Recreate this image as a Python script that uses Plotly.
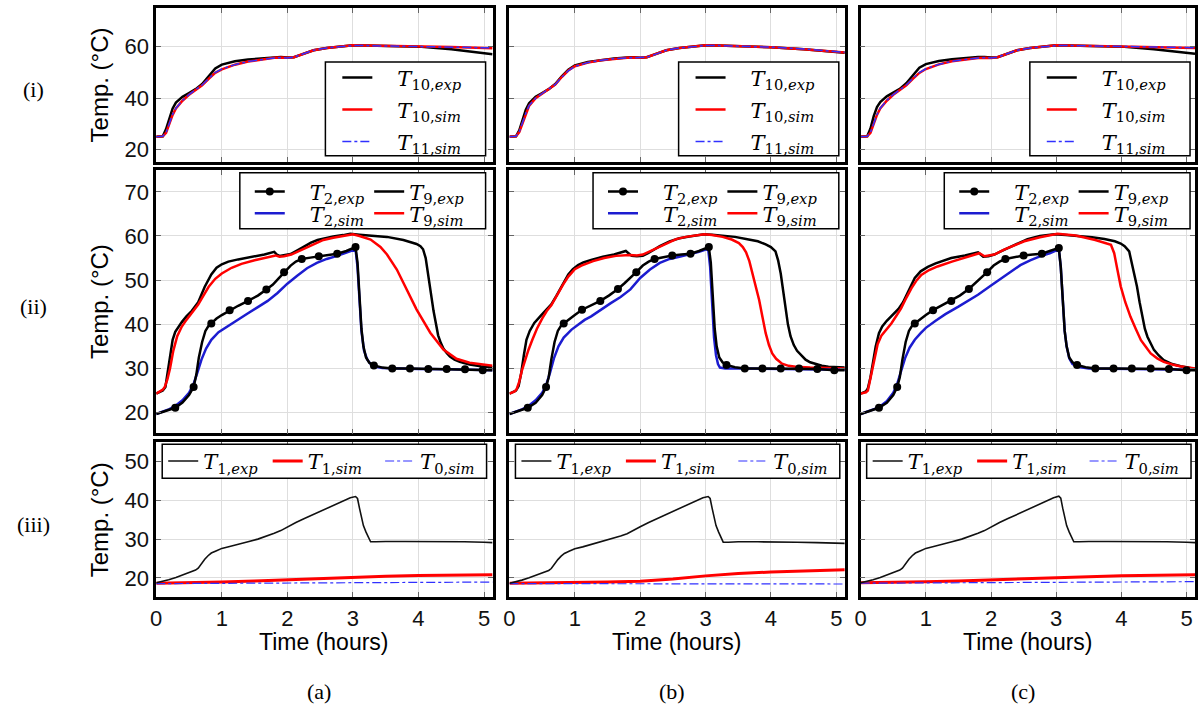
import plotly.graph_objects as go

W, H = 1198, 706

# ---------------- data : row (i) ----------------
t_top = [0, 0.1, 0.15, 0.2, 0.25, 0.3, 0.4, 0.5, 0.6, 0.7, 0.8, 0.9, 1.0, 1.2, 1.4, 1.6, 1.8, 1.9, 2.0,
         2.1, 2.2, 2.3, 2.4, 2.6, 2.8, 3.0, 3.2, 3.5, 4.0, 4.5, 5.13]
T10_exp_a = [25.0, 25.2, 28.0, 32.5, 36.0, 38.3, 40.5, 42.0, 43.5, 45.5, 48.5, 51.5, 53.0, 54.3, 55.0, 55.5, 56.0,
             56.0, 55.8, 55.9, 56.8, 57.8, 58.6, 59.5, 60.0, 60.5, 60.4, 60.3, 60.0, 59.0, 57.0]
T10_sim_a = [25.0, 25.2, 26.5, 30.0, 33.5, 36.0, 39.0, 41.3, 43.2, 45.0, 47.5, 49.8, 51.2, 53.0, 54.2, 55.0, 55.7,
             55.8, 55.7, 55.9, 56.8, 57.8, 58.6, 59.5, 60.0, 60.5, 60.4, 60.3, 60.1, 59.9, 59.4]
T11_sim_a = [25.0, 25.2, 26.6, 30.2, 33.7, 36.1, 39.1, 41.4, 43.2, 45.1, 47.6, 49.9, 51.3, 53.0, 54.2, 55.0, 55.6,
             55.7, 55.6, 55.9, 56.7, 57.7, 58.6, 59.5, 60.0, 60.4, 60.4, 60.3, 60.1, 59.9, 59.5]
T10_exp_b = [25.0, 25.2, 27.5, 32.0, 35.5, 38.0, 40.5, 42.0, 43.5, 45.5, 48.5, 51.0, 52.7, 54.0, 54.8, 55.4, 55.8,
             55.9, 55.7, 55.9, 56.8, 57.8, 58.6, 59.5, 60.0, 60.5, 60.4, 60.2, 59.8, 59.0, 57.6]
T10_sim_b = [25.0, 25.2, 26.8, 30.5, 34.0, 37.0, 40.0, 41.8, 43.4, 45.3, 48.2, 50.7, 52.4, 53.8, 54.7, 55.3, 55.7,
             55.8, 55.7, 55.9, 56.8, 57.8, 58.6, 59.5, 60.0, 60.5, 60.4, 60.2, 59.8, 59.0, 57.7]
T11_sim_b = [25.0, 25.2, 26.9, 30.6, 34.1, 37.1, 40.0, 41.8, 43.4, 45.3, 48.1, 50.6, 52.3, 53.8, 54.7, 55.3, 55.6,
             55.7, 55.6, 55.9, 56.7, 57.7, 58.6, 59.5, 60.0, 60.4, 60.4, 60.2, 59.8, 59.1, 57.8]
T10_exp_c = [25.0, 25.2, 28.2, 33.0, 36.5, 38.5, 40.7, 42.2, 43.6, 45.8, 49.0, 51.8, 53.2, 54.4, 55.1, 55.6, 56.0,
             56.0, 55.8, 55.9, 56.8, 57.8, 58.6, 59.5, 60.0, 60.5, 60.4, 60.3, 60.0, 59.0, 57.2]
T10_sim_c = [25.0, 25.2, 26.5, 30.0, 33.5, 36.0, 39.0, 41.3, 43.2, 45.0, 47.5, 49.8, 51.3, 53.1, 54.3, 55.0, 55.6,
             55.7, 55.6, 55.9, 56.8, 57.8, 58.6, 59.5, 60.0, 60.5, 60.4, 60.3, 60.1, 59.9, 59.5]
T11_sim_c = [25.0, 25.2, 26.6, 30.1, 33.6, 36.1, 39.1, 41.4, 43.3, 45.1, 47.6, 49.9, 51.4, 53.1, 54.3, 55.0, 55.6,
             55.7, 55.6, 55.9, 56.7, 57.7, 58.6, 59.5, 60.0, 60.4, 60.4, 60.3, 60.1, 59.9, 59.6]

# ---------------- data : row (ii) ----------------
T9_exp_a_t = [0, 0.1, 0.14, 0.18, 0.21, 0.25, 0.29, 0.34, 0.39, 0.46, 0.54, 0.64, 0.74, 0.84, 0.92, 1.0, 1.1, 1.25,
              1.5, 1.65, 1.8, 1.84, 1.88, 1.95, 2.05, 2.16, 2.26, 2.36, 2.46, 2.56, 2.7, 2.85, 2.96, 3.1, 3.27, 3.52,
              3.77, 3.9, 3.97, 4.03, 4.07, 4.11, 4.15, 4.19, 4.23, 4.27, 4.3, 4.34, 4.38, 4.43, 4.48, 4.55, 4.63,
              4.78, 4.95, 5.13]
T9_exp_a = [24.3, 25.0, 25.8, 30.0, 33.5, 36.5, 38.3, 39.5, 40.5, 41.8, 43.0, 45.0, 48.5, 51.3, 52.8, 53.6, 54.2,
            54.7, 55.3, 55.8, 56.4, 55.8, 55.5, 55.6, 55.9, 56.8, 57.7, 58.5, 59.1, 59.5, 59.9, 60.2, 60.5, 60.3,
            60.1, 59.8, 59.1, 58.6, 58.2, 57.7, 57.0, 55.0, 51.5, 47.0, 43.0, 39.5, 37.5, 35.8, 34.5, 33.5, 32.7,
            32.0, 31.5, 30.9, 30.5, 30.3]
T9_sim_a_t = [0, 0.1, 0.13, 0.17, 0.21, 0.26, 0.32, 0.39, 0.46, 0.54, 0.64, 0.72, 0.8, 0.9, 1.0, 1.15, 1.3, 1.5,
              1.7, 1.82, 1.88, 1.95, 2.06, 2.16, 2.26, 2.4, 2.55, 2.7, 2.85, 3.0, 3.1, 3.27, 3.42, 3.52, 3.67, 3.77,
              3.97, 4.18, 4.38, 4.58, 4.78, 5.13]
T9_sim_a = [24.3, 25.2, 25.8, 27.5, 30.0, 34.0, 37.3, 39.5, 41.0, 42.5, 44.5, 46.5, 48.5, 50.3, 51.5, 52.8, 53.7,
            54.5, 55.2, 55.6, 55.3, 55.4, 55.8, 56.5, 57.2, 58.2, 59.1, 59.6, 60.0, 60.4, 60.0, 59.2, 57.5, 55.8,
            52.4, 49.4, 43.4, 38.1, 34.3, 32.2, 31.3, 30.6]
T2_exp_a_t = [0, 0.1, 0.2, 0.29, 0.4, 0.5, 0.57, 0.61, 0.65, 0.7, 0.75, 0.8, 0.84, 0.92, 1.0, 1.12, 1.25, 1.4, 1.55,
              1.68, 1.78, 1.86, 1.95, 2.05, 2.13, 2.22, 2.35, 2.48, 2.62, 2.76, 2.9, 2.98, 3.04, 3.07, 3.1, 3.13,
              3.16, 3.2, 3.25, 3.32, 3.45, 3.6, 3.87, 4.15, 4.43, 4.71, 4.98, 5.13]
T2_exp_a = [19.7, 20.2, 20.6, 21.1, 22.3, 24.0, 25.8, 28.5, 32.5, 36.0, 38.5, 39.7, 40.2, 41.3, 42.1, 43.2, 44.2,
            45.3, 46.5, 47.9, 49.0, 50.3, 51.8, 53.3, 54.2, 54.8, 55.1, 55.4, 55.7, 56.0, 56.6, 57.1, 57.5, 54.0,
            46.0, 39.0, 35.0, 32.5, 31.3, 30.7, 30.2, 30.0, 30.0, 29.9, 29.9, 29.8, 29.6, 29.6]
T2_mark_a_t = [0.29, 0.57, 0.84, 1.12, 1.4, 1.68, 1.95, 2.22, 2.48, 2.76, 3.04, 3.32, 3.6, 3.87, 4.15, 4.43, 4.71, 4.98]
T2_mark_a = [21.1, 25.8, 40.2, 43.2, 45.3, 47.9, 51.8, 54.8, 55.4, 56.0, 57.5, 30.7, 30.0, 30.0, 29.9, 29.9, 29.8, 29.6]
T2_sim_a_t = [0, 0.1, 0.2, 0.3, 0.4, 0.5, 0.57, 0.63, 0.69, 0.76, 0.84, 0.95, 1.05, 1.15, 1.25, 1.4, 1.55, 1.7, 1.85,
              2.0, 2.15, 2.3, 2.45, 2.6, 2.76, 2.9, 2.98, 3.04, 3.07, 3.1, 3.13, 3.17, 3.22, 3.27, 3.35, 3.45, 3.6,
              4.0, 4.5, 5.13]
T2_sim_a = [19.7, 20.2, 20.8, 21.6, 22.8, 24.5, 26.5, 29.2, 32.0, 34.5, 36.5, 38.2, 39.2, 40.2, 41.0, 42.5, 43.9,
            45.3, 47.1, 49.2, 51.0, 52.7, 53.9, 54.8, 55.5, 56.2, 56.7, 57.0, 53.0, 45.0, 38.5, 34.0, 32.0, 31.0,
            30.4, 30.1, 30.0, 29.9, 29.8, 29.6]

T9_exp_b_t = [0, 0.1, 0.14, 0.18, 0.22, 0.26, 0.31, 0.38, 0.47, 0.55, 0.64, 0.72, 0.82, 0.9, 0.97, 1.05, 1.13, 1.25,
              1.43, 1.6, 1.78, 1.82, 1.87, 1.95, 2.04, 2.12, 2.19, 2.3, 2.45, 2.6, 2.75, 2.9, 2.98, 3.1, 3.26, 3.45,
              3.66, 3.8, 3.92, 4.0, 4.07, 4.11, 4.15, 4.19, 4.22, 4.26, 4.3, 4.35, 4.4, 4.47, 4.53, 4.6, 4.68, 4.78,
              4.88, 5.0, 5.13]
T9_exp_b = [24.3, 25.0, 26.0, 29.0, 33.0, 36.5, 38.5, 40.3, 41.8, 43.0, 44.5, 46.5, 49.3, 51.3, 52.5, 53.4, 54.0,
            54.6, 55.3, 55.8, 56.6, 56.1, 55.5, 55.4, 55.5, 56.1, 56.8, 57.7, 58.8, 59.5, 59.9, 60.2, 60.4, 60.3,
            60.1, 59.8, 59.2, 58.8, 58.1, 57.5, 56.5, 54.5, 51.5, 47.5, 44.0, 40.0, 37.3, 35.3, 34.0, 32.8, 32.0,
            31.4, 31.0, 30.6, 30.4, 30.3, 30.2]
T9_sim_b_t = [0, 0.08, 0.11, 0.15, 0.19, 0.24, 0.29, 0.35, 0.42, 0.5, 0.57, 0.64, 0.72, 0.82, 0.9, 1.0, 1.1, 1.28,
              1.45, 1.63, 1.84, 1.95, 2.04, 2.14, 2.24, 2.4, 2.55, 2.7, 2.85, 2.98, 3.1, 3.26, 3.4, 3.51, 3.57, 3.62,
              3.67, 3.72, 3.77, 3.82, 3.87, 3.92, 3.97, 4.02, 4.08, 4.17, 4.27, 4.38, 4.6, 4.9, 5.13]
T9_sim_b = [24.3, 24.8, 25.3, 27.0, 29.5, 32.0, 34.2, 36.5, 39.0, 41.3, 43.0, 44.3, 46.5, 49.0, 50.8, 52.5, 53.3,
            54.3, 55.0, 55.5, 55.7, 55.6, 55.8, 56.5, 57.3, 58.4, 59.3, 59.8, 60.1, 60.4, 60.2, 59.8, 59.2, 58.4,
            57.5, 56.3, 54.3, 51.5, 48.5, 45.5, 41.7, 38.0, 35.3, 33.4, 32.2, 31.1, 30.6, 30.4, 30.2, 30.1, 30.0]
T2_exp_b_t = [0, 0.1, 0.2, 0.28, 0.4, 0.5, 0.56, 0.6, 0.64, 0.69, 0.74, 0.79, 0.83, 0.92, 1.0, 1.11, 1.25, 1.39, 1.52,
              1.66, 1.76, 1.85, 1.94, 2.04, 2.13, 2.22, 2.35, 2.49, 2.63, 2.77, 2.9, 2.98, 3.05, 3.08, 3.11, 3.14,
              3.17, 3.21, 3.26, 3.32, 3.45, 3.6, 3.87, 4.15, 4.43, 4.71, 4.97, 5.13]
T2_exp_b = [19.7, 20.2, 20.6, 21.1, 22.2, 24.0, 25.8, 28.0, 32.0, 36.0, 38.5, 39.7, 40.2, 41.3, 42.1, 43.3, 44.3,
            45.3, 46.5, 48.0, 49.3, 50.5, 51.8, 53.3, 54.2, 54.8, 55.2, 55.6, 55.8, 56.0, 56.6, 57.0, 57.5, 54.0,
            46.0, 39.0, 35.0, 32.5, 31.4, 30.8, 30.3, 30.0, 30.0, 30.0, 30.0, 29.9, 29.6, 29.6]
T2_mark_b_t = [0.28, 0.56, 0.83, 1.11, 1.39, 1.66, 1.94, 2.22, 2.49, 2.77, 3.05, 3.32, 3.6, 3.87, 4.15, 4.43, 4.71, 4.97]
T2_mark_b = [21.1, 25.8, 40.2, 43.3, 45.3, 48.0, 51.8, 54.8, 55.6, 56.0, 57.5, 30.8, 30.0, 30.0, 30.0, 30.0, 29.9, 29.6]
T2_sim_b_t = [0, 0.1, 0.2, 0.3, 0.4, 0.5, 0.56, 0.62, 0.68, 0.75, 0.83, 0.95, 1.05, 1.15, 1.25, 1.4, 1.55, 1.7, 1.85,
              2.0, 2.15, 2.3, 2.45, 2.6, 2.76, 2.9, 2.98, 3.04, 3.07, 3.1, 3.13, 3.16, 3.19, 3.22, 3.3, 3.6, 4.0,
              4.5, 5.13]
T2_sim_b = [19.7, 20.3, 20.8, 21.6, 22.8, 24.5, 26.2, 29.0, 32.3, 35.0, 37.0, 38.8, 40.0, 41.0, 41.8, 43.4, 44.8,
            46.2, 47.9, 50.5, 52.4, 53.9, 54.8, 55.3, 55.8, 56.4, 56.8, 57.1, 53.0, 44.0, 37.0, 33.0, 31.0, 30.2,
            30.0, 30.0, 29.9, 29.8, 29.7]

T9_exp_c_t = [0, 0.08, 0.11, 0.15, 0.19, 0.23, 0.28, 0.33, 0.4, 0.47, 0.52, 0.58, 0.65, 0.73, 0.83, 0.92, 1.03, 1.15,
              1.39, 1.6, 1.8, 1.84, 1.88, 1.96, 2.05, 2.15, 2.26, 2.4, 2.56, 2.75, 2.97, 3.15, 3.33, 3.55, 3.74, 3.9,
              3.99, 4.05, 4.12, 4.16, 4.2, 4.24, 4.28, 4.32, 4.36, 4.4, 4.45, 4.5, 4.57, 4.65, 4.78, 4.91, 5.13]
T9_exp_c = [24.3, 24.8, 25.5, 28.0, 31.5, 35.0, 38.0, 39.5, 40.8, 41.9, 42.5, 43.5, 45.0, 47.5, 50.5, 52.0, 53.0,
            53.8, 55.0, 55.6, 56.3, 55.8, 55.3, 55.4, 55.8, 56.5, 57.3, 58.2, 59.3, 60.0, 60.4, 60.2, 60.0, 59.7,
            59.3, 58.8, 58.3, 57.7, 56.5, 54.0, 51.0, 48.5, 45.0, 41.7, 39.0, 37.2, 35.5, 34.2, 33.0, 31.9, 31.0,
            30.5, 29.9]
T9_sim_c_t = [0, 0.08, 0.11, 0.15, 0.21, 0.26, 0.32, 0.4, 0.47, 0.55, 0.62, 0.7, 0.78, 0.86, 0.93, 1.05, 1.18, 1.4,
              1.59, 1.82, 1.9, 2.05, 2.2, 2.35, 2.51, 2.75, 3.02, 3.3, 3.6, 3.84, 3.89, 3.94, 3.99, 4.06, 4.14, 4.22,
              4.3, 4.38, 4.45, 4.55, 4.65, 4.78, 4.9, 5.13]
T9_sim_c = [24.3, 24.6, 25.0, 28.0, 32.6, 35.5, 37.5, 39.0, 40.2, 42.0, 43.6, 46.0, 48.2, 50.0, 51.2, 52.3, 53.1,
            54.2, 55.0, 56.1, 55.4, 55.8, 56.9, 57.9, 58.8, 59.7, 60.5, 60.1, 59.1, 58.0, 56.1, 52.3, 48.6, 45.0,
            41.7, 39.0, 36.4, 34.8, 33.4, 32.3, 31.5, 30.9, 30.5, 30.0]
T2_exp_c_t = [0, 0.1, 0.2, 0.28, 0.4, 0.5, 0.56, 0.6, 0.64, 0.69, 0.74, 0.79, 0.83, 0.92, 1.0, 1.11, 1.25, 1.39, 1.52,
              1.66, 1.76, 1.85, 1.94, 2.04, 2.13, 2.22, 2.36, 2.5, 2.64, 2.78, 2.9, 2.98, 3.04, 3.07, 3.1, 3.13,
              3.16, 3.2, 3.25, 3.32, 3.45, 3.6, 3.88, 4.16, 4.45, 4.73, 5.0, 5.13]
T2_exp_c = [19.7, 20.2, 20.6, 21.1, 22.2, 24.0, 25.8, 28.0, 32.0, 36.0, 38.5, 39.7, 40.2, 41.3, 42.1, 43.2, 44.3,
            45.3, 46.5, 48.0, 49.3, 50.5, 51.8, 53.3, 54.2, 54.8, 55.2, 55.6, 55.8, 56.0, 56.6, 57.0, 57.3, 53.0,
            45.0, 38.5, 35.0, 32.5, 31.4, 30.8, 30.3, 30.0, 30.0, 30.0, 30.0, 29.9, 29.6, 29.6]
T2_mark_c_t = [0.28, 0.56, 0.83, 1.11, 1.39, 1.66, 1.94, 2.22, 2.5, 2.78, 3.04, 3.32, 3.6, 3.88, 4.16, 4.45, 4.73, 5.0]
T2_mark_c = [21.1, 25.8, 40.2, 43.2, 45.3, 48.0, 51.8, 54.8, 55.6, 56.0, 57.3, 30.8, 30.0, 30.0, 30.0, 30.0, 29.9, 29.6]
T2_sim_c_t = [0, 0.1, 0.2, 0.28, 0.4, 0.5, 0.56, 0.62, 0.68, 0.75, 0.83, 0.92, 1.0, 1.15, 1.3, 1.5, 1.66, 1.8, 2.0,
              2.15, 2.3, 2.45, 2.6, 2.75, 2.9, 2.98, 3.04, 3.07, 3.1, 3.13, 3.16, 3.2, 3.25, 3.35, 3.5, 4.0, 4.5, 5.13]
T2_sim_c = [19.7, 20.2, 20.7, 21.2, 22.6, 24.5, 26.5, 29.5, 32.3, 34.7, 36.5, 38.0, 39.2, 40.8, 42.3, 44.0, 45.4,
            46.7, 48.8, 50.4, 52.0, 53.4, 54.5, 55.4, 56.1, 56.6, 57.0, 53.0, 45.0, 38.5, 35.0, 32.3, 31.0, 30.3,
            30.0, 29.9, 29.8, 29.7]

# ---------------- data : row (iii) ----------------
t_bot = [0, 0.1, 0.19, 0.3, 0.42, 0.54, 0.6, 0.64, 0.69, 0.74, 0.79, 0.84, 0.92, 1.0, 1.12, 1.25, 1.4, 1.55, 1.7,
         1.8, 1.9, 2.0, 2.13, 2.26, 2.4, 2.51, 2.64, 2.76, 2.88, 2.96, 3.04, 3.07, 3.1, 3.13, 3.16, 3.2, 3.24, 3.27,
         3.35, 3.5, 3.8, 4.1, 4.4, 4.7, 5.0, 5.13]
T1_exp_a = [18.7, 19.1, 19.5, 20.1, 20.8, 21.5, 22.0, 22.5, 23.7, 24.8, 25.7, 26.4, 27.0, 27.6, 28.1, 28.6, 29.3,
            30.0, 30.8, 31.5, 32.2, 33.2, 34.3, 35.3, 36.4, 37.3, 38.2, 39.2, 40.0, 40.7, 41.0, 40.5, 38.0, 35.5,
            33.5, 31.8, 30.3, 29.3, 29.3, 29.4, 29.4, 29.4, 29.3, 29.3, 29.2, 29.1]
T1_exp_b = [18.6, 19.0, 19.4, 20.0, 20.7, 21.4, 21.9, 22.4, 23.6, 24.7, 25.6, 26.3, 26.9, 27.5, 28.0, 28.6, 29.3,
            30.0, 30.8, 31.4, 32.2, 33.2, 34.3, 35.3, 36.4, 37.3, 38.2, 39.2, 40.0, 40.7, 41.0, 40.5, 38.0, 35.5,
            33.5, 31.8, 30.3, 29.2, 29.2, 29.3, 29.3, 29.3, 29.2, 29.1, 29.0, 28.9]
T1_exp_c = [18.7, 19.1, 19.5, 20.1, 20.8, 21.5, 22.0, 22.5, 23.7, 24.8, 25.7, 26.4, 27.0, 27.6, 28.1, 28.6, 29.3,
            30.0, 30.8, 31.5, 32.2, 33.2, 34.3, 35.3, 36.4, 37.3, 38.2, 39.2, 40.0, 40.7, 41.1, 40.6, 38.0, 35.5,
            33.5, 31.8, 30.3, 29.3, 29.3, 29.4, 29.4, 29.4, 29.3, 29.3, 29.2, 29.1]
t_sim_bot = [0, 0.5, 1.0, 1.5, 2.0, 2.5, 3.0, 3.5, 4.0, 4.5, 5.13]
T1_sim_a = [18.6, 18.7, 18.9, 19.2, 19.5, 19.9, 20.2, 20.4, 20.6, 20.7, 20.8]
T1_sim_b = [18.6, 18.65, 18.75, 18.9, 19.1, 19.7, 20.5, 21.1, 21.5, 21.8, 22.1]
T1_sim_c = [18.7, 18.8, 19.0, 19.2, 19.5, 19.8, 20.1, 20.3, 20.5, 20.7, 20.8]
t_T0 = [0, 1, 2, 3, 4, 5.13]
T0_sim_a = [18.5, 18.6, 18.7, 18.8, 18.8, 18.9]
T0_sim_b = [18.5, 18.5, 18.45, 18.4, 18.4, 18.4]
T0_sim_c = [18.6, 18.7, 18.8, 18.9, 18.9, 19.0]

# ---------------- labels ----------------
row_labels = ["(i)", "(ii)", "(iii)"]
panel_labels = ["(a)", "(b)", "(c)"]
y_title = "Temp. (°C)"
x_title = "Time (hours)"
x_ticks = [0, 1, 2, 3, 4, 5]
y_ticks = [[20, 40, 60], [20, 30, 40, 50, 60, 70], [20, 30, 40, 50]]


def nm(base, sub, kind):
    return "<i>%s</i><sub>%s,<i>%s</i></sub>" % (base, sub, kind)


# ---------------- layout geometry (pixels) ----------------
COLS = [(151, 489), (506, 843), (859, 1195)]
ROWS = [(8, 162), (170, 434), (443, 598)]
YR = [[15.3, 75], [15.3, 75], [15, 55]]
XR = [0, 5.13]

BLACK = "#000000"
RED = "#ff0000"
BLUE = "#1c1cd0"
BLUE_DD = "#3030ff"
SERIF = "DejaVu Serif"
SANS = "Liberation Sans, Arial, sans-serif"
LEG_SIZE = 21


def px(x):
    return x / W


def py(y):
    return 1 - y / H


fig = go.Figure()
layout = {}
shapes = []
annotations = []
leg_counter = [0]


def new_legend(x_line, yc):
    leg_counter[0] += 1
    n = leg_counter[0]
    key = "legend" if n == 1 else "legend%d" % n
    layout[key] = dict(x=px(x_line - 5), y=py(yc), xanchor="left", yanchor="middle",
                       bgcolor="rgba(0,0,0,0)", borderwidth=0,
                       font=dict(family=SERIF, size=LEG_SIZE, color="black"),
                       itemclick=False, itemdoubleclick=False)
    return key


def add_box(x0, x1, y0, y1):
    shapes.append(dict(type="rect", xref="paper", yref="paper", x0=px(x0), x1=px(x1), y0=py(y1), y1=py(y0),
                       fillcolor="white", line=dict(color="black", width=1.5), layer="above"))


panel_data = [
    dict(T10e=T10_exp_a, T10s=T10_sim_a, T11s=T11_sim_a,
         T9e=(T9_exp_a_t, T9_exp_a), T9s=(T9_sim_a_t, T9_sim_a), T2e=(T2_exp_a_t, T2_exp_a),
         T2m=(T2_mark_a_t, T2_mark_a), T2s=(T2_sim_a_t, T2_sim_a),
         T1e=T1_exp_a, T1s=T1_sim_a, T0s=T0_sim_a),
    dict(T10e=T10_exp_b, T10s=T10_sim_b, T11s=T11_sim_b,
         T9e=(T9_exp_b_t, T9_exp_b), T9s=(T9_sim_b_t, T9_sim_b), T2e=(T2_exp_b_t, T2_exp_b),
         T2m=(T2_mark_b_t, T2_mark_b), T2s=(T2_sim_b_t, T2_sim_b),
         T1e=T1_exp_b, T1s=T1_sim_b, T0s=T0_sim_b),
    dict(T10e=T10_exp_c, T10s=T10_sim_c, T11s=T11_sim_c,
         T9e=(T9_exp_c_t, T9_exp_c), T9s=(T9_sim_c_t, T9_sim_c), T2e=(T2_exp_c_t, T2_exp_c),
         T2m=(T2_mark_c_t, T2_mark_c), T2s=(T2_sim_c_t, T2_sim_c),
         T1e=T1_exp_c, T1s=T1_sim_c, T0s=T0_sim_c),
]

for r in range(3):
    for c in range(3):
        k = r * 3 + c + 1
        xa = "xaxis" if k == 1 else "xaxis%d" % k
        ya = "yaxis" if k == 1 else "yaxis%d" % k
        xr = "x" if k == 1 else "x%d" % k
        yr = "y" if k == 1 else "y%d" % k
        L, R = COLS[c]
        T, B = ROWS[r]
        common = dict(showgrid=True, gridcolor="#dedede", gridwidth=1, zeroline=False,
                      showline=True, linecolor="black", linewidth=2.5, mirror="ticks",
                      ticks="inside", ticklen=5, tickwidth=1, tickcolor="#666",
                      tickfont=dict(family=SANS, size=22, color="#111"))
        layout[xa] = dict(common, domain=[px(L), px(R)], anchor=yr, range=XR, tickvals=x_ticks,
                          showticklabels=(r == 2))
        layout[ya] = dict(common, domain=[py(B), py(T)], anchor=xr, range=YR[r], tickvals=y_ticks[r],
                          showticklabels=(c == 0))
        d = panel_data[c]
        if r == 0:
            add_box(L + 170, L + 331, 62, 156)
            lx = L + 187
            pad = "\u00a0\u00a0\u00a0"
            fig.add_trace(go.Scatter(x=t_top, y=d["T10e"], mode="lines", line=dict(color=BLACK, width=2.5),
                                     name=pad + nm("T", "10", "exp"), xaxis=xr, yaxis=yr,
                                     legend=new_legend(lx, 78)))
            fig.add_trace(go.Scatter(x=t_top, y=d["T10s"], mode="lines", line=dict(color=RED, width=2.5),
                                     name=pad + nm("T", "10", "sim"), xaxis=xr, yaxis=yr,
                                     legend=new_legend(lx, 110)))
            fig.add_trace(go.Scatter(x=t_top, y=d["T11s"], mode="lines",
                                     line=dict(color=BLUE_DD, width=1.5, dash="dashdot"),
                                     name=pad + nm("T", "11", "sim"), xaxis=xr, yaxis=yr,
                                     legend=new_legend(lx, 142)))
        elif r == 1:
            add_box(L + 84, L + 331, 173, 229)
            pad = "\u00a0\u00a0\u00a0"
            lg1 = new_legend(L + 99, 192)
            lg2 = new_legend(L + 99, 214)
            lg3 = new_legend(L + 219, 192)
            lg4 = new_legend(L + 219, 214)
            fig.add_trace(go.Scatter(x=d["T9e"][0], y=d["T9e"][1], mode="lines",
                                     line=dict(color=BLACK, width=2.5),
                                     name=nm("T", "9", "exp"), xaxis=xr, yaxis=yr, legend=lg3))
            fig.add_trace(go.Scatter(x=d["T9s"][0], y=d["T9s"][1], mode="lines",
                                     line=dict(color=RED, width=2.5),
                                     name=nm("T", "9", "sim"), xaxis=xr, yaxis=yr, legend=lg4))
            fig.add_trace(go.Scatter(x=d["T2s"][0], y=d["T2s"][1], mode="lines",
                                     line=dict(color=BLUE, width=2.5),
                                     name=pad + nm("T", "2", "sim"), xaxis=xr, yaxis=yr, legend=lg2))
            fig.add_trace(go.Scatter(x=d["T2e"][0], y=d["T2e"][1], mode="lines",
                                     line=dict(color=BLACK, width=2.5), showlegend=False,
                                     xaxis=xr, yaxis=yr))
            fig.add_trace(go.Scatter(x=d["T2m"][0], y=d["T2m"][1], mode="markers",
                                     marker=dict(color=BLACK, size=8), showlegend=False,
                                     xaxis=xr, yaxis=yr))
            fig.add_trace(go.Scatter(x=[None], y=[None], mode="lines+markers",
                                     line=dict(color=BLACK, width=2.5), marker=dict(color=BLACK, size=8),
                                     name=pad + nm("T", "2", "exp"), xaxis=xr, yaxis=yr, legend=lg1))
        else:
            add_box(L + 6, L + 332, 445, 479)
            fig.add_trace(go.Scatter(x=t_sim_bot, y=d["T1s"], mode="lines", line=dict(color=RED, width=3),
                                     name=nm("T", "1", "sim"), xaxis=xr, yaxis=yr,
                                     legend=new_legend(L + 117, 462)))
            fig.add_trace(go.Scatter(x=t_T0, y=d["T0s"], mode="lines",
                                     line=dict(color=BLUE_DD, width=1.2, dash="dashdot"),
                                     name=nm("T", "0", "sim"), xaxis=xr, yaxis=yr,
                                     legend=new_legend(L + 230, 462)))
            fig.add_trace(go.Scatter(x=t_bot, y=d["T1e"], mode="lines", line=dict(color="#111", width=1.6),
                                     name=nm("T", "1", "exp"), xaxis=xr, yaxis=yr,
                                     legend=new_legend(L + 12, 462)))

# row labels and y titles
for r in range(3):
    T, B = ROWS[r]
    yc = (T + B) / 2
    annotations.append(dict(text=row_labels[r], x=px(28), y=py(yc + 5), xref="paper", yref="paper",
                            xanchor="center", yanchor="middle", showarrow=False,
                            font=dict(family="Liberation Serif", size=22, color="black")))
    annotations.append(dict(text=y_title, x=px(94), y=py(yc), xref="paper", yref="paper", textangle=-90,
                            xanchor="center", yanchor="middle", showarrow=False,
                            font=dict(family=SANS, size=24, color="black")))
# x titles and panel labels
for c in range(3):
    L, R = COLS[c]
    xc = (L + R) / 2
    annotations.append(dict(text=x_title, x=px(xc), y=py(643), xref="paper", yref="paper",
                            xanchor="center", yanchor="middle", showarrow=False,
                            font=dict(family=SANS, size=23, color="black")))
    annotations.append(dict(text=panel_labels[c], x=px(xc - 5), y=py(692), xref="paper", yref="paper",
                            xanchor="center", yanchor="middle", showarrow=False,
                            font=dict(family="Liberation Serif", size=22, color="black")))

layout.update(dict(width=W, height=H, margin=dict(l=0, r=0, t=0, b=0), plot_bgcolor="white",
                   paper_bgcolor="white", shapes=shapes, annotations=annotations, showlegend=True))
fig.update_layout(**layout)
fig.write_html("out.html", include_plotlyjs=True, config={"displayModeBar": False},
               post_script="document.body.style.margin='0px';")
